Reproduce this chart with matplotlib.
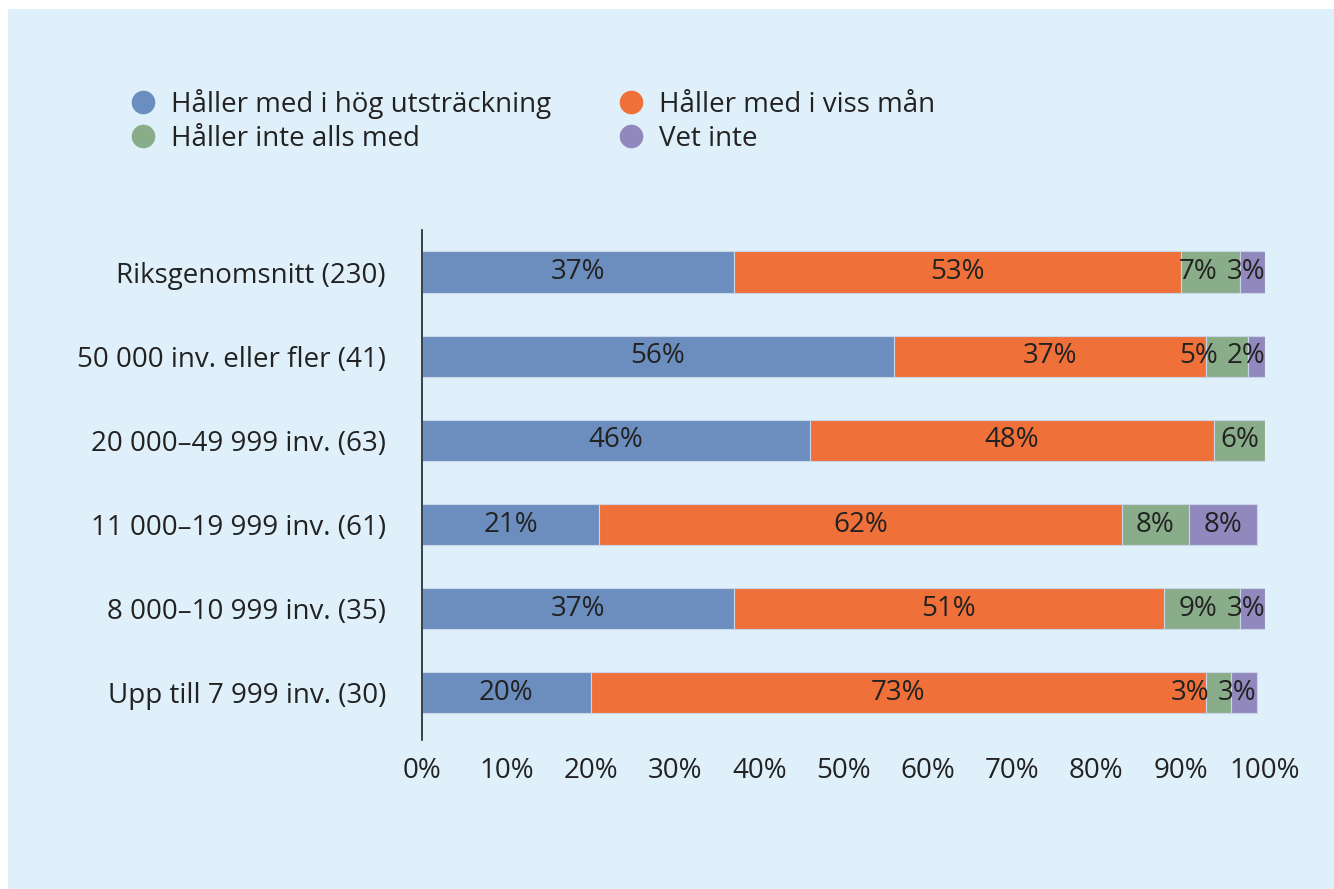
import matplotlib.pyplot as plt
from matplotlib.lines import Line2D
from matplotlib.patches import Rectangle
import numpy as np

plt.rcParams["font.family"] = ["Open Sans", "DejaVu Sans"]

# Data
groups = [
    "Riksgenomsnitt (230)",
    "50 000 inv. eller fler (41)",
    "20 000–49 999 inv. (63)",
    "11 000–19 999 inv. (61)",
    "8 000–10 999 inv. (35)",
    "Upp till 7 999 inv. (30)",
]
hog = [37, 56, 46, 21, 37, 20]
viss = [53, 37, 48, 62, 51, 73]
inte_alls = [7, 5, 6, 8, 9, 3]
vet_inte = [3, 2, 0, 8, 3, 3]

series_names = [
    "Håller med i hög utsträckning",
    "Håller med i viss mån",
    "Håller inte alls med",
    "Vet inte",
]
colors = ["#6c8ebf", "#ef7038", "#8aad89", "#9189bd"]
bg = "#e0f0fa"
txt = "#222222"
fs = 20

fig = plt.figure(figsize=(13.34, 8.89), dpi=100)
fig.patch.set_facecolor("white")
fig.patches.append(Rectangle((8 / 1334, 0), 1, (889 - 9) / 889,
                             transform=fig.transFigure, facecolor=bg,
                             edgecolor="none", zorder=-10))

ax = fig.add_axes([422 / 1334, 1 - 740 / 889, 843 / 1334, 510 / 889])
ax.set_facecolor("none")

y = np.arange(len(groups))
all_vals = [hog, viss, inte_alls, vet_inte]
left = np.zeros(len(groups))
for si, (name, vals, col) in enumerate(zip(series_names, all_vals, colors)):
    vals = np.array(vals, dtype=float)
    ax.barh(y, vals, left=left, height=0.49, color=col,
            edgecolor="#c9d6ea", linewidth=0.8)
    for i, (yi, l, v) in enumerate(zip(y, left, vals)):
        if v <= 0:
            continue
        end = l + v
        small_last = 0 < vet_inte[i] < 5
        if si == 3 and small_last:
            # narrow last segment: label flush with bar end
            x, ha = end, "right"
        elif si == 2 and small_last:
            # push label left so it does not collide with the next one
            x, ha = end + vet_inte[i] - 5.6, "right"
        else:
            x, ha = l + v / 2, "center"
        ax.text(x, yi, f"{int(v)}%", ha=ha, va="center",
                fontsize=fs, color=txt)
    left += vals

ax.set_xlim(0, 100)
ax.set_ylim(5.56, -0.5)
ax.set_xticks(np.arange(0, 101, 10))
ax.set_xticklabels([f"{t}%" for t in range(0, 101, 10)])
ax.set_yticks(y)
ax.set_yticklabels(groups)
ax.tick_params(axis="x", length=0, pad=12, labelsize=fs, labelcolor=txt)
ax.tick_params(axis="y", length=0, pad=26, labelsize=fs, labelcolor=txt)
for s in ["top", "right", "bottom"]:
    ax.spines[s].set_visible(False)
ax.spines["left"].set_color("#222222")
ax.spines["left"].set_linewidth(1.2)

# Legend
order = [0, 2, 1, 3]
handles = [Line2D([], [], marker="o", linestyle="none", markersize=17,
                  markerfacecolor=colors[i], markeredgecolor="none") for i in order]
labels = [series_names[i] for i in order]
fig.legend(handles, labels, ncol=2, loc="upper left",
           bbox_to_anchor=(104 / 1334, 1 - 64 / 889), frameon=False,
           fontsize=fs, labelcolor=txt, handletextpad=0.5,
           labelspacing=0.2, columnspacing=2.4, handlelength=1.0)

fig.savefig("out.png", dpi=100, facecolor=fig.get_facecolor())
